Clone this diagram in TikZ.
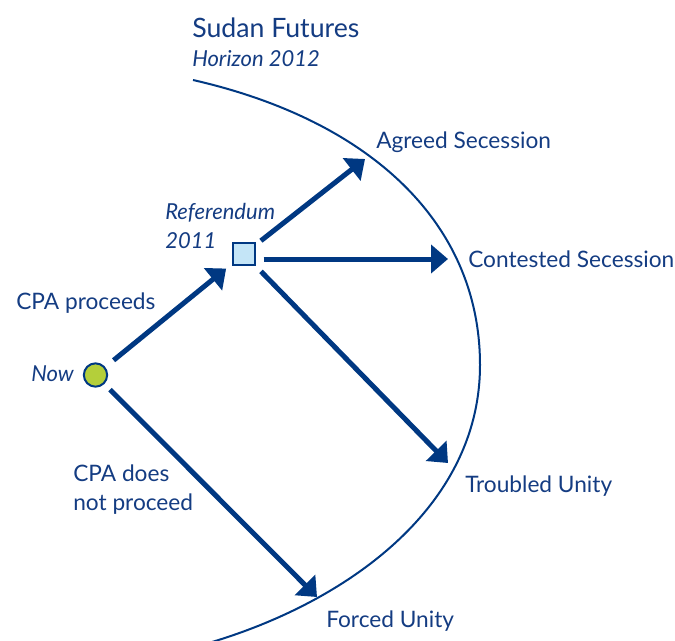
\documentclass[tikz,border=0pt]{standalone}
\usepackage{fontspec}
\setmainfont{Lato}
\usetikzlibrary{arrows.meta}
\definecolor{navy}{RGB}{0,56,130}
\definecolor{txt}{RGB}{20,60,130}
\definecolor{nowgreen}{RGB}{180,207,58}
\definecolor{reffill}{RGB}{196,229,247}
\begin{document}
\begin{tikzpicture}[x=0.75pt,y=-0.75pt,
  arr/.style={draw=navy, line width=3.75pt, -{Triangle[length=12.75pt,width=21pt]}},
  lbl/.style={anchor=base west, inner sep=0pt, text=txt, font=\fontsize{17}{20}\selectfont},
  ilbl/.style={lbl, font=\fontsize{16.5}{20}\selectfont\itshape},
  titlestyle/.style={lbl, font=\fontsize{20}{24}\selectfont},
  horizon/.style={lbl, font=\fontsize{16.5}{20}\selectfont\itshape},
  nowdot/.style={circle, draw=navy, line width=1.5pt, fill=nowgreen, minimum size=17.5pt, inner sep=0pt},
  refbox/.style={rectangle, draw=navy, line width=1.5pt, fill=reffill, minimum size=16pt, inner sep=0pt}]
\useasboundingbox (0,0) rectangle (675,640);

% horizon curve
\draw[navy, line width=1.5pt] (193,80) .. controls (373,121) and (480,225) .. (480,365)
   .. controls (480,505) and (351,600) .. (212,642);

% titles
\node[titlestyle] (title) at (192,37) {Sudan Futures};
\node[horizon] (horizon) at (192,66) {Horizon 2012};

% nodes
\node[nowdot] (now) at (95.5,375) {};
\node[refbox] (ref) at (244,254) {};

% tips
\coordinate (tAgreed) at (365,159);
\coordinate (tCont) at (448,259);
\coordinate (tTroub) at (448,463);
\coordinate (tForced) at (317,597);

% labels
\node[ilbl] (nowlbl) at (31,381) {Now};
\node[ilbl] (reflbl) at (165,219) {Referendum};
\node[ilbl] (reflbl2) at (165,248) {2011};
\node[lbl] (cpa) at (16,309) {CPA proceeds};
\node[lbl] (cpano) at (73,481) {CPA does};
\node[lbl] (cpano2) at (73,510) {not proceed};
\node[lbl] (agreed) at (376,148) {Agreed Secession};
\node[lbl] (contested) at (468,267) {Contested Secession};
\node[lbl] (troubled) at (465,492) {Troubled Unity};
\node[lbl] (forced) at (326,627) {Forced Unity};

% arrows
\draw[arr, shorten <=8pt, shorten >=6pt] (now) -- (ref);
\draw[arr, shorten <=6pt] (now) -- (tForced);
\draw[arr, shorten <=5pt] (ref) -- (tAgreed);
\draw[arr, shorten <=6pt] (ref.east |- tCont) -- (tCont);
\draw[arr, shorten <=6pt] (ref) -- (tTroub);
\end{tikzpicture}
\end{document}
